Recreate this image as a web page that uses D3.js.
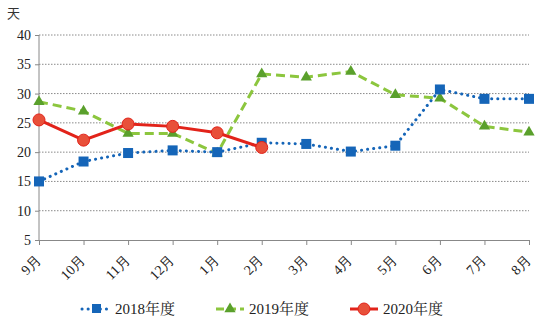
<!DOCTYPE html>
<html><head><meta charset="utf-8">
<script src="https://cdn.jsdelivr.net/npm/d3@7"></script>
<style>
body{margin:0;background:#fff;}
svg{display:block;font-family:"Liberation Serif","Times New Roman",serif;}
</style></head>
<body><svg id="c" width="550" height="327"></svg>
<script>
const months = ["9月","10月","11月","12月","1月","2月","3月","4月","5月","6月","7月","8月"];
const yTicks = [5,10,15,20,25,30,35,40];
const s2018 = [15.0,18.4,19.85,20.3,20.0,21.6,21.4,20.1,21.1,30.7,29.1,29.1];
const s2019 = [28.6,27.0,23.2,23.2,19.8,33.35,32.8,33.75,29.8,29.2,24.4,23.4];
const s2020 = [25.5,22.05,24.8,24.4,23.3,20.8];
const seriesNames = ["2018年度","2019年度","2020年度"];

const svg = d3.select("#c");
const x = d3.scalePoint().domain(months).range([39,529]);
const y = d3.scaleLinear().domain([5,40]).range([240,35]);

// gridlines
svg.append("g").selectAll("line").data(yTicks.filter(d=>d>5)).join("line")
  .attr("x1",39).attr("x2",529).attr("y1",d=>y(d)).attr("y2",d=>y(d))
  .attr("stroke","#8a8a8a").attr("stroke-width",1).attr("stroke-dasharray","1.5,1.5");

// y axis
const ya = svg.append("g").attr("transform","translate(39,0)")
  .call(d3.axisLeft(y).tickValues(yTicks).tickSize(4).tickPadding(4));
ya.select(".domain").attr("stroke","#888").attr("d","M0,35V240");
ya.selectAll(".tick line").attr("stroke","#888");
ya.selectAll("text").attr("font-size",14).attr("fill","#222").attr("font-family","Liberation Serif");

// x axis
const xa = svg.append("g").attr("transform","translate(0,240)")
  .call(d3.axisBottom(x).tickSize(5).tickSizeOuter(0));
xa.select(".domain").attr("stroke","#888");
xa.selectAll(".tick line").attr("stroke","#888");
xa.selectAll("text").attr("font-size",14).attr("fill","#222").attr("font-family","Liberation Serif")
  .attr("text-anchor","end").attr("dy",null).attr("y",0)
  .attr("transform","translate(2,21) rotate(-45)");

svg.append("text").attr("x",7).attr("y",18).attr("font-size",13).attr("fill","#333")
  .attr("font-family","Noto Sans CJK SC").text("天");

const line = d3.line().x((d,i)=>x(months[i])).y(d=>y(d));

const cBlue="#1565b8", cGreen="#8cc63e", cRed="#e2231a";

// 2019 green dashed
svg.append("path").datum(s2019).attr("d",line).attr("fill","none")
  .attr("stroke",cGreen).attr("stroke-width",3).attr("stroke-dasharray","9,5");
const tri = d3.symbol().type(d3.symbolTriangle).size(55);
svg.append("g").selectAll("path").data(s2019).join("path")
  .attr("d",tri).attr("transform",(d,i)=>`translate(${x(months[i])},${y(d)})`)
  .attr("fill","#5aa02c");

// 2018 blue dotted
svg.append("path").datum(s2018).attr("d",line).attr("fill","none")
  .attr("stroke",cBlue).attr("stroke-width",3).attr("stroke-linecap","round")
  .attr("stroke-dasharray","0.1,6");
svg.append("g").selectAll("rect").data(s2018).join("rect")
  .attr("x",(d,i)=>x(months[i])-5).attr("y",d=>y(d)-5).attr("width",10).attr("height",10)
  .attr("fill",cBlue);

// 2020 red solid
svg.append("path").datum(s2020).attr("d",line).attr("fill","none")
  .attr("stroke",cRed).attr("stroke-width",3);
svg.append("g").selectAll("circle").data(s2020).join("circle")
  .attr("cx",(d,i)=>x(months[i])).attr("cy",d=>y(d)).attr("r",6)
  .attr("fill","#e8503a").attr("stroke","#e2231a").attr("stroke-width",1);

// legend
const leg = [
  {name:seriesNames[0], x0:82, tx:115, color:cBlue, type:"sq"},
  {name:seriesNames[1], x0:216, tx:249, color:cGreen, type:"tri"},
  {name:seriesNames[2], x0:350, tx:383, color:cRed, type:"cir"}
];
const lg = svg.append("g");
leg.forEach(l=>{
  const g = lg.append("g");
  const ly = 309;
  const ln = g.append("line").attr("x1",l.x0).attr("x2",l.x0+28).attr("y1",ly).attr("y2",ly)
    .attr("stroke",l.color).attr("stroke-width",3);
  if(l.type==="sq"){ ln.attr("stroke-dasharray","0.1,6").attr("stroke-linecap","round");
    g.append("rect").attr("x",l.x0+10).attr("y",ly-5).attr("width",9).attr("height",9).attr("fill",l.color);}
  if(l.type==="tri"){ ln.attr("stroke-dasharray","8,4");
    g.append("path").attr("d",tri).attr("transform",`translate(${l.x0+14},${ly})`).attr("fill","#5aa02c");}
  if(l.type==="cir"){
    g.append("circle").attr("cx",l.x0+14).attr("cy",ly).attr("r",6).attr("fill","#e8503a").attr("stroke",l.color);}
  g.append("text").attr("x",l.tx).attr("y",ly+5).attr("font-size",15).attr("fill","#222")
    .attr("font-family","Liberation Serif, Noto Serif CJK SC, Noto Sans CJK SC").text(l.name);
});
</script></body></html>
